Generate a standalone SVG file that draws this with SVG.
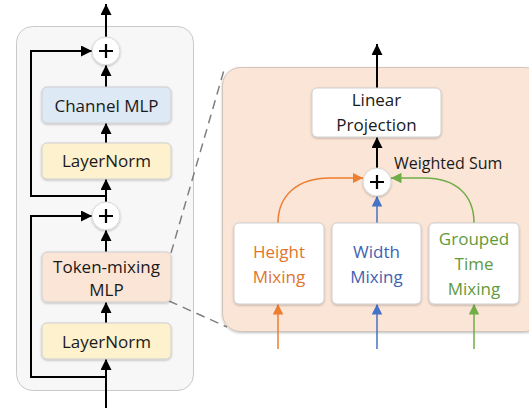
<svg xmlns="http://www.w3.org/2000/svg" width="529" height="408" viewBox="0 0 529 408">
<defs>
<style>
.t{font-family:"Open Sans","Liberation Sans",sans-serif;font-size:17px;fill:#1a1a1a;text-anchor:middle}
.ln{stroke:#000;stroke-width:2;fill:none}
.box{stroke:#cfcfcf;stroke-width:1;filter:url(#sh)}
.plus{fill:#fff;stroke:#d8d8d8;stroke-width:1;filter:url(#sh)}
.pm{stroke:#000;stroke-width:2.2}
</style>
<filter id="sh" x="-20%" y="-20%" width="140%" height="150%">
<feDropShadow dx="0" dy="1" stdDeviation="1.2" flood-color="#000" flood-opacity="0.25"/>
</filter>
<marker id="ak" viewBox="0 0 10 10" refX="10" refY="5" markerWidth="5.5" markerHeight="5.5" orient="auto" markerUnits="strokeWidth"><path d="M0,0 L10,5 L0,10 z" fill="#000"/></marker>
<marker id="ao" viewBox="0 0 10 10" refX="10" refY="5" markerWidth="7" markerHeight="7" orient="auto" markerUnits="strokeWidth"><path d="M0,0 L10,5 L0,10 z" fill="#ed7d31"/></marker>
<marker id="ab" viewBox="0 0 10 10" refX="10" refY="5" markerWidth="7" markerHeight="7" orient="auto" markerUnits="strokeWidth"><path d="M0,0 L10,5 L0,10 z" fill="#4472c4"/></marker>
<marker id="ag" viewBox="0 0 10 10" refX="10" refY="5" markerWidth="7" markerHeight="7" orient="auto" markerUnits="strokeWidth"><path d="M0,0 L10,5 L0,10 z" fill="#70ad47"/></marker>
</defs>

<g id="left-panel"><rect x="16.5" y="26.5" width="177" height="364" rx="16" fill="#f7f7f7" stroke="#c9c9c9"/></g>
<g id="right-panel"><rect x="222.5" y="67.5" width="320" height="264" rx="18" fill="#fbe5d6" stroke="#d0c4bb" filter="url(#sh)"/></g>

<g id="connectors">
<path class="ln" d="M106,408 L106,359" marker-end="url(#ak)"/>
<path class="ln" d="M106,377 L31,377 L31,216 L92,216" marker-end="url(#ak)"/>
<path class="ln" d="M106,323 L106,302" marker-end="url(#ak)"/>
<path class="ln" d="M106,252 L106,230" marker-end="url(#ak)"/>
<path class="ln" d="M106,202 L106,179" marker-end="url(#ak)"/>
<path class="ln" d="M106,196 L31,196 L31,51 L92,51" marker-end="url(#ak)"/>
<path class="ln" d="M106,143 L106,123" marker-end="url(#ak)"/>
<path class="ln" d="M106,87 L106,65" marker-end="url(#ak)"/>
<path class="ln" d="M106,37 L106,4" marker-end="url(#ak)"/>
<path d="M171,253 L224,70" stroke="#7f7f7f" stroke-width="1.5" stroke-dasharray="9,6" fill="none"/>
<path d="M169,301 L227,327" stroke="#7f7f7f" stroke-width="1.5" stroke-dasharray="9,6" fill="none"/>
<path class="ln" d="M377,88 L377,44" marker-end="url(#ak)"/>
<path class="ln" d="M377,169 L377,137" marker-end="url(#ak)"/>
<path d="M278,223 C278,195 298,178 330,178 L363,178" stroke="#ed7d31" stroke-width="1.5" fill="none" marker-end="url(#ao)"/>
<path d="M377,223 L377,196" stroke="#4472c4" stroke-width="1.5" fill="none" marker-end="url(#ab)"/>
<path d="M474,223 C474,195 456,178 424,178 L391,178" stroke="#70ad47" stroke-width="1.5" fill="none" marker-end="url(#ag)"/>
<path d="M278,349 L278,304" stroke="#ed7d31" stroke-width="1.5" fill="none" marker-end="url(#ao)"/>
<path d="M377,349 L377,304" stroke="#4472c4" stroke-width="1.5" fill="none" marker-end="url(#ab)"/>
<path d="M474,349 L474,304" stroke="#70ad47" stroke-width="1.5" fill="none" marker-end="url(#ag)"/>
</g>

<g id="plus-top"><circle class="plus" cx="106" cy="51" r="14"/><path class="pm" d="M99,51 H113 M106,44 V58"/></g>
<g id="channel-mlp"><rect class="box" x="42" y="87" width="129" height="36" rx="5" fill="#dde9f5" stroke="#c6d3e0"/><text class="t" x="106.5" y="112">Channel MLP</text></g>
<g id="layernorm-1"><rect class="box" x="42" y="143" width="129" height="36" rx="5" fill="#fef1cd"/><text class="t" x="106.5" y="167">LayerNorm</text></g>
<g id="plus-mid"><circle class="plus" cx="106" cy="216" r="14"/><path class="pm" d="M99,216 H113 M106,209 V223"/></g>
<g id="token-mixing-mlp"><rect class="box" x="42" y="252" width="129" height="50" rx="5" fill="#fbe5d6"/><text class="t" x="106.5" y="273">Token-mixing</text><text class="t" x="106.5" y="296">MLP</text></g>
<g id="layernorm-2"><rect class="box" x="42" y="323" width="129" height="36" rx="5" fill="#fef1cd"/><text class="t" x="106.5" y="348">LayerNorm</text></g>

<g id="linear-projection"><rect class="box" x="312" y="88" width="129" height="49" rx="5" fill="#fff"/><text class="t" x="376.5" y="106">Linear</text><text class="t" x="376.5" y="131">Projection</text></g>
<g id="weighted-sum"><circle class="plus" cx="377" cy="182" r="14"/><path class="pm" d="M370,182 H384 M377,175 V189"/><text class="t" x="394" y="169" style="text-anchor:start;font-size:16px">Weighted Sum</text></g>
<g id="height-mixing"><rect class="box" x="234" y="223" width="90" height="81" rx="5" fill="#fff"/><text class="t" x="279" y="258" style="fill:#e0752d">Height</text><text class="t" x="279" y="283" style="fill:#e0752d">Mixing</text></g>
<g id="width-mixing"><rect class="box" x="332" y="223" width="89" height="81" rx="5" fill="#fff"/><text class="t" x="376.5" y="258" style="fill:#3f63b0">Width</text><text class="t" x="376.5" y="283" style="fill:#3f63b0">Mixing</text></g>
<g id="grouped-time-mixing"><rect class="box" x="429" y="223" width="90" height="81" rx="5" fill="#fff"/><text class="t" x="474" y="245" style="fill:#5f9a3d">Grouped</text><text class="t" x="474" y="270" style="fill:#5f9a3d">Time</text><text class="t" x="474" y="295" style="fill:#5f9a3d">Mixing</text></g>
</svg>
